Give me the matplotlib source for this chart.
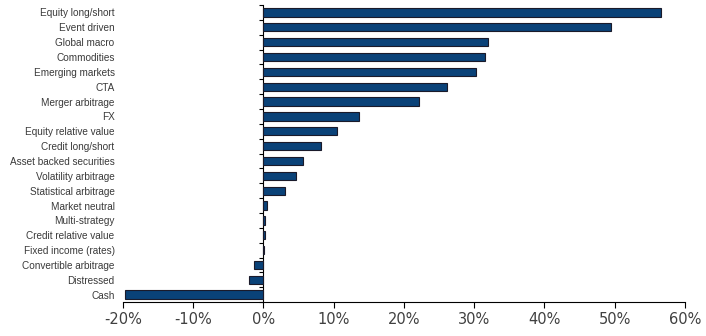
import matplotlib
matplotlib.use("Agg")
import matplotlib.pyplot as plt
import numpy as np

strategies = [
    "Equity long/short", "Event driven", "Global macro", "Commodities",
    "Emerging markets", "CTA", "Merger arbitrage", "FX",
    "Equity relative value", "Credit long/short", "Asset backed securities",
    "Volatility arbitrage", "Statistical arbitrage", "Market neutral",
    "Multi-strategy", "Credit relative value", "Fixed income (rates)",
    "Convertible arbitrage", "Distressed", "Cash",
]
values = [56.6, 49.5, 32.0, 31.5, 30.3, 26.1, 22.1, 13.6, 10.5, 8.2,
          5.6, 4.7, 3.1, 0.5, 0.2, 0.2, 0.05, -1.4, -2.0, -19.7]
xticks = [-20, -10, 0, 10, 20, 30, 40, 50, 60]

fig = plt.figure(figsize=(7.06, 3.36), dpi=100)
ax = fig.add_axes([0.174, 0.101, 0.796, 0.884])

y = np.arange(len(strategies))
ax.barh(y, values, height=0.56, color="#0a4278", edgecolor="#1a1a2a", linewidth=0.8)

ax.set_ylim(len(strategies) - 0.5, -0.5)
ax.set_xlim(-20, 60)
ax.set_yticks(y)
ax.set_yticklabels(strategies, fontsize=7.2, color="#3a3a3a", family="Liberation Sans")
ax.tick_params(axis="y", length=0, pad=6)
ax.set_xticks(xticks)
ax.set_xticklabels([f"{t}%" for t in xticks], fontsize=10.5, color="#404040")
ax.tick_params(axis="x", length=4, width=0.8, direction="out", pad=3)

for s in ["top", "right", "left"]:
    ax.spines[s].set_visible(False)
ax.spines["bottom"].set_linewidth(0.8)

# vertical zero axis with category tick marks
sec = ax.secondary_yaxis(0.25)
sec.set_yticks(np.arange(len(strategies) + 1) - 0.5)
sec.set_yticklabels([])
sec.tick_params(length=3, width=0.8, direction="out")
sec.spines["left"].set_linewidth(0.8)

fig.savefig("out.png", dpi=100)
